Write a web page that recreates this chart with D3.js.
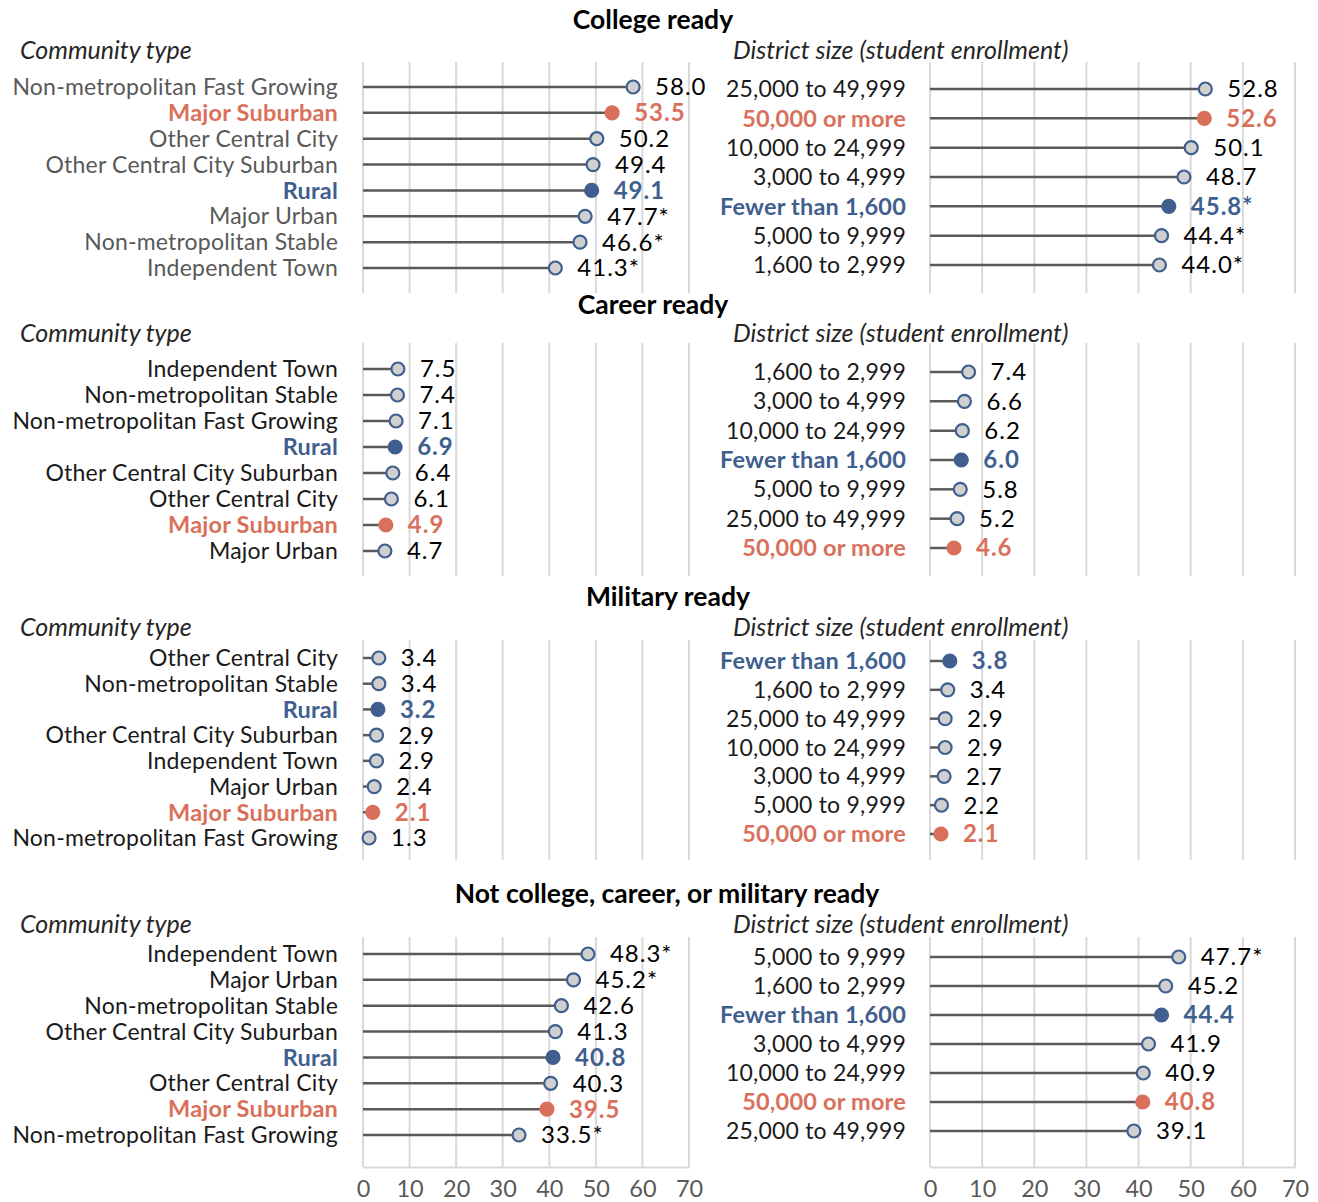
<!DOCTYPE html>
<html>
<head>
<meta charset="utf-8">
<script src="https://cdn.jsdelivr.net/npm/d3@7"></script>
<style>
    body { margin: 0; background: #fff; }
    text { font-family: Lato, "Open Sans", sans-serif; }
</style>
</head>
<body>
<script>
//anonymous function so nothing is in global scope
(function(){
    // tick labels for every x axis
    var tickValues = [0, 10, 20, 30, 40, 50, 60, 70];

    // panel titles and the two sub headings
    var panelTitles = ["College ready", "Career ready", "Military ready", "Not college, career, or military ready"];
    var leftHeading = "Community type",
        rightHeading = "District size (student enrollment)";

    // categories drawn in orange / blue
    var orangeCats = ["Major Suburban", "50,000 or more"];
    var blueCats = ["Rural", "Fewer than 1,600"];

    // college ready
    var collegeCommunity = ["Non-metropolitan Fast Growing", "Major Suburban", "Other Central City", "Other Central City Suburban",
                            "Rural", "Major Urban", "Non-metropolitan Stable", "Independent Town"];
    var collegeCommunityValues = [58.0, 53.5, 50.2, 49.4, 49.1, 47.7, 46.6, 41.3];
    var collegeCommunityStars = [0, 0, 0, 0, 0, 1, 1, 1];
    var collegeDistrict = ["25,000 to 49,999", "50,000 or more", "10,000 to 24,999", "3,000 to 4,999",
                           "Fewer than 1,600", "5,000 to 9,999", "1,600 to 2,999"];
    var collegeDistrictValues = [52.8, 52.6, 50.1, 48.7, 45.8, 44.4, 44.0];
    var collegeDistrictStars = [0, 0, 0, 0, 1, 1, 1];

    // career ready
    var careerCommunity = ["Independent Town", "Non-metropolitan Stable", "Non-metropolitan Fast Growing", "Rural",
                           "Other Central City Suburban", "Other Central City", "Major Suburban", "Major Urban"];
    var careerCommunityValues = [7.5, 7.4, 7.1, 6.9, 6.4, 6.1, 4.9, 4.7];
    var careerCommunityStars = [0, 0, 0, 0, 0, 0, 0, 0];
    var careerDistrict = ["1,600 to 2,999", "3,000 to 4,999", "10,000 to 24,999", "Fewer than 1,600",
                          "5,000 to 9,999", "25,000 to 49,999", "50,000 or more"];
    var careerDistrictValues = [7.4, 6.6, 6.2, 6.0, 5.8, 5.2, 4.6];
    var careerDistrictStars = [0, 0, 0, 0, 0, 0, 0];

    // military ready
    var militaryCommunity = ["Other Central City", "Non-metropolitan Stable", "Rural", "Other Central City Suburban",
                             "Independent Town", "Major Urban", "Major Suburban", "Non-metropolitan Fast Growing"];
    var militaryCommunityValues = [3.4, 3.4, 3.2, 2.9, 2.9, 2.4, 2.1, 1.3];
    var militaryCommunityStars = [0, 0, 0, 0, 0, 0, 0, 0];
    var militaryDistrict = ["Fewer than 1,600", "1,600 to 2,999", "25,000 to 49,999", "10,000 to 24,999",
                            "3,000 to 4,999", "5,000 to 9,999", "50,000 or more"];
    var militaryDistrictValues = [3.8, 3.4, 2.9, 2.9, 2.7, 2.2, 2.1];
    var militaryDistrictStars = [0, 0, 0, 0, 0, 0, 0];

    // not college, career, or military ready
    var notReadyCommunity = ["Independent Town", "Major Urban", "Non-metropolitan Stable", "Other Central City Suburban",
                             "Rural", "Other Central City", "Major Suburban", "Non-metropolitan Fast Growing"];
    var notReadyCommunityValues = [48.3, 45.2, 42.6, 41.3, 40.8, 40.3, 39.5, 33.5];
    var notReadyCommunityStars = [1, 1, 0, 0, 0, 0, 0, 1];
    var notReadyDistrict = ["5,000 to 9,999", "1,600 to 2,999", "Fewer than 1,600", "3,000 to 4,999",
                            "10,000 to 24,999", "50,000 or more", "25,000 to 49,999"];
    var notReadyDistrictValues = [47.7, 45.2, 44.4, 41.9, 40.9, 40.8, 39.1];
    var notReadyDistrictStars = [1, 0, 0, 0, 0, 0, 0];

    // colours
    var orange = "#d9705b",
        blue = "#3f5f8f",
        stemColor = "#595959",
        gridColor = "#d9d9d9",
        markerFill = "#d0d0d0";

    window.onload = setChart();

    function setChart(){
        var width = 1318,
            height = 1202;

        var svg = d3.select("body")
            .append("svg")
            .attr("width", width)
            .attr("height", height);

        // x scales, left (community type) and right (district size)
        var xLeft = d3.scaleLinear().domain([0, 70]).range([363, 689]);
        var xRight = d3.scaleLinear().domain([0, 70]).range([930, 1295]);

        // vertical layout of each block
        var layout = [
            {titleX: 653, titleY: 20, headY: 50, gridTop: 62, gridBottom: 293, left: [87, 268], right: [89, 265]},
            {titleX: 653, titleY: 305, headY: 333, gridTop: 343, gridBottom: 576, left: [369, 551], right: [372, 548]},
            {titleX: 668, titleY: 597, headY: 627, gridTop: 640, gridBottom: 860, left: [658, 838], right: [661, 834]},
            {titleX: 667, titleY: 894, headY: 924, gridTop: 937, gridBottom: 1167, left: [954, 1135], right: [957, 1131]}
        ];

        var blocks = [
            [zipRows(collegeCommunity, collegeCommunityValues, collegeCommunityStars),
             zipRows(collegeDistrict, collegeDistrictValues, collegeDistrictStars)],
            [zipRows(careerCommunity, careerCommunityValues, careerCommunityStars),
             zipRows(careerDistrict, careerDistrictValues, careerDistrictStars)],
            [zipRows(militaryCommunity, militaryCommunityValues, militaryCommunityStars),
             zipRows(militaryDistrict, militaryDistrictValues, militaryDistrictStars)],
            [zipRows(notReadyCommunity, notReadyCommunityValues, notReadyCommunityStars),
             zipRows(notReadyDistrict, notReadyDistrictValues, notReadyDistrictStars)]
        ];

        blocks.forEach(function(block, i){
            var lay = layout[i];
            var g = svg.append("g").attr("class", "block");

            // title
            g.append("text")
                .attr("x", lay.titleX)
                .attr("y", lay.titleY)
                .attr("dy", "0.35em")
                .attr("text-anchor", "middle")
                .style("font-size", "26.5px")
                .style("font-weight", "bold")
                .style("fill", "#000")
                .text(panelTitles[i]);

            // sub headings
            g.append("text")
                .attr("x", 20).attr("y", lay.headY).attr("dy", "0.35em")
                .style("font-size", "25px").style("font-style", "italic").style("fill", "#262626")
                .text(leftHeading);
            g.append("text")
                .attr("x", 733).attr("y", lay.headY).attr("dy", "0.35em")
                .style("font-size", "25px").style("font-style", "italic").style("fill", "#262626")
                .text(rightHeading);

            drawPanel(g, block[0], xLeft, lay.left, lay, 338, i == 0 ? "#595959" : "#1a1a1a");
            drawPanel(g, block[1], xRight, lay.right, lay, 906, "#1a1a1a");
        });

        // bottom axes only under the last block
        var last = layout[3];
        [xLeft, xRight].forEach(function(x){
            var axis = d3.axisBottom(x).tickValues(tickValues).tickSize(0).tickPadding(13);
            var ag = svg.append("g")
                .attr("transform", "translate(0," + last.gridBottom + ")")
                .call(axis);
            ag.select(".domain").attr("stroke", gridColor).attr("stroke-width", 2);
            ag.selectAll("text")
                .style("font-family", "Lato, sans-serif")
                .style("font-size", "23.5px")
                .style("fill", "#595959");
        });
    };

    function zipRows(names, values, stars){
        return names.map(function(n, i){
            return {name: n, value: values[i], star: stars[i]};
        });
    };

    function catColor(name, fallback){
        if (orangeCats.indexOf(name) > -1) return orange;
        if (blueCats.indexOf(name) > -1) return blue;
        return fallback;
    };

    function drawPanel(g, rows, x, yRange, lay, labelX, labelColor){
        var y = d3.scalePoint()
            .domain(rows.map(function(d){ return d.name; }))
            .range(yRange);

        // vertical gridlines
        g.append("g").selectAll("line")
            .data(tickValues)
            .enter()
            .append("line")
            .attr("x1", function(d){ return x(d); })
            .attr("x2", function(d){ return x(d); })
            .attr("y1", lay.gridTop)
            .attr("y2", lay.gridBottom)
            .attr("stroke", gridColor)
            .attr("stroke-width", 2);

        var row = g.append("g").selectAll("g")
            .data(rows)
            .enter()
            .append("g")
            .attr("transform", function(d){ return "translate(0," + y(d.name) + ")"; });

        // category labels
        row.append("text")
            .attr("x", labelX)
            .attr("dy", "0.35em")
            .attr("text-anchor", "end")
            .style("font-size", function(d){ return catColor(d.name, null) ? "23.5px" : "23px"; })
            .style("letter-spacing", "0.2px")
            .style("font-weight", function(d){ return catColor(d.name, null) ? "bold" : "normal"; })
            .style("fill", function(d){ return catColor(d.name, labelColor); })
            .text(function(d){ return d.name; });

        // stems
        row.append("line")
            .attr("x1", x(0))
            .attr("x2", function(d){ return x(d.value); })
            .attr("stroke", stemColor)
            .attr("stroke-width", 2.5);

        // markers
        row.append("circle")
            .attr("cx", function(d){ return x(d.value); })
            .attr("r", 6.5)
            .attr("fill", function(d){ return catColor(d.name, markerFill); })
            .attr("stroke", function(d){ return catColor(d.name, blue); })
            .attr("stroke-width", 2.2);

        // value labels
        row.append("text")
            .attr("x", function(d){ return x(d.value) + 22; })
            .attr("dy", "0.35em")
            .style("font-size", "24px")
            .style("letter-spacing", "1px")
            .style("font-weight", function(d){ return catColor(d.name, null) ? "bold" : "normal"; })
            .style("fill", function(d){ return catColor(d.name, "#000"); })
            .text(function(d){ return d.value.toFixed(1) + (d.star ? "*" : ""); });
    };

})();
</script>
</body>
</html>
